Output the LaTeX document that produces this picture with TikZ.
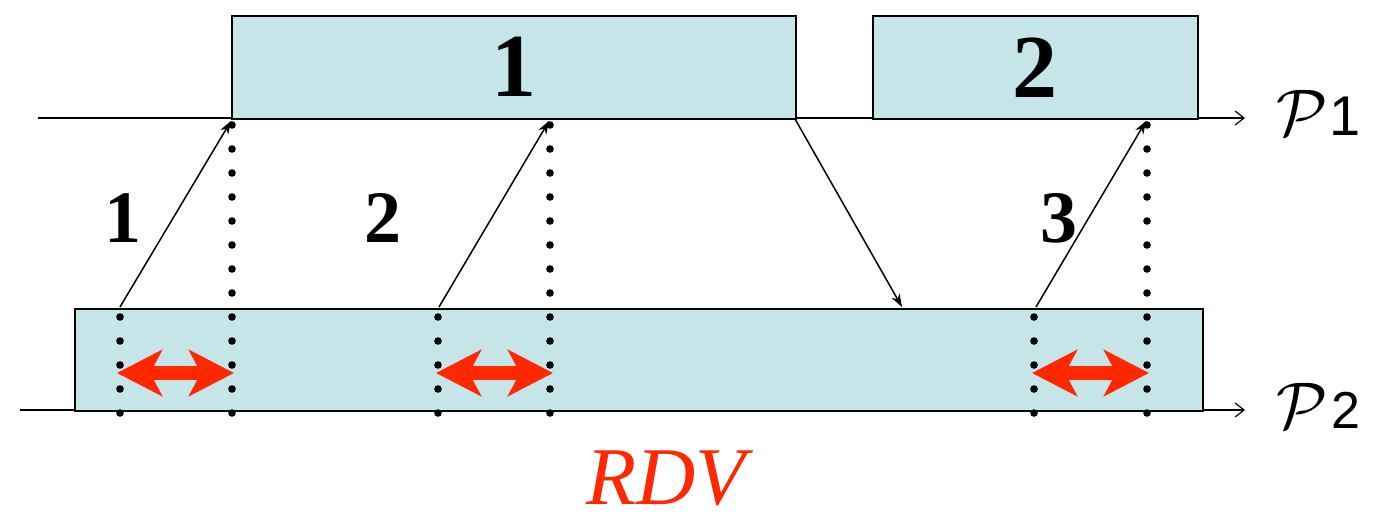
\documentclass[tikz,border=0pt]{standalone}
\usepackage{fontspec}
\setmainfont{Liberation Serif}
\newfontfamily\handfont{Liberation Sans}
\usetikzlibrary{arrows.meta}
\definecolor{boxfill}{RGB}{197,229,232}
\definecolor{rdvred}{RGB}{255,40,0}
\tikzset{
  blk/.style={draw=black, fill=boxfill, line width=1.5pt, inner sep=0pt, anchor=north west},
  axis/.style={line width=1.4pt, -{Straight Barb[length=9pt,width=14pt,line width=1.2pt]}},
  msg/.style={line width=1.5pt, -{Stealth[length=13pt,width=9pt,inset=4pt]}},
  span/.style={rdvred, line width=14pt, {Stealth[length=45pt,width=46pt,inset=12pt]}-{Stealth[length=45pt,width=46pt,inset=12pt]}},
  dot/.style={fill=black, draw=none},
  biglbl/.style={font=\fontsize{90}{90}\selectfont\bfseries},
  numlbl/.style={font=\fontsize{74}{74}\selectfont\bfseries},
  plbl/.style={inner sep=0pt, anchor=base west}
}
\begin{document}
\begin{tikzpicture}[x=1pt,y=-1pt]
\useasboundingbox (0,0) rectangle (1389,517);
% axes
\coordinate (a1s) at (38,118);
\coordinate (a1e) at (1245,118);
\coordinate (a2s) at (20,410);
\coordinate (a2e) at (1245,410);
\draw[axis] (a1s) -- (a1e);
\draw[axis] (a2s) -- (a2e);
% boxes
\node[blk, minimum width=564pt, minimum height=103pt] (b1) at (231,15) {};
\node[blk, minimum width=325pt, minimum height=103pt] (b2) at (872,15) {};
\node[blk, minimum width=1128pt, minimum height=102pt] (b3) at (74,308) {};
\node[biglbl] (l1) at (b1.center) {1};
\node[biglbl] (l2) at (b2.center) {2};
% dots
\foreach \x in {232,550,1147} {
  \foreach \y in {125,149,...,413} { \fill[dot] (\x,\y) circle (3.8pt); }
}
\foreach \x in {120,438,1034} {
  \foreach \y in {317,341,...,413} { \fill[dot] (\x,\y) circle (3.8pt); }
}
% messages
\coordinate (s1) at (120,307);
\coordinate (t1) at (231,121);
\coordinate (s2) at (439,307);
\coordinate (t2) at (549,121);
\coordinate (s3) at (1036,307);
\coordinate (t3) at (1146,121);
\coordinate (s4) at (795,119);
\coordinate (t4) at (902,307);
\draw[msg] (s1) -- (t1);
\draw[msg] (s2) -- (t2);
\draw[msg] (s3) -- (t3);
\draw[msg] (s4) -- (t4);
\node[numlbl] (n1) at (123,218) {1};
\node[numlbl] (n2) at (383,218) {2};
\node[numlbl] (n3) at (1059,218) {3};
% spans
\coordinate (r1a) at (117,373);
\coordinate (r1b) at (234,373);
\coordinate (r2a) at (436,373);
\coordinate (r2b) at (553,373);
\coordinate (r3a) at (1032,373);
\coordinate (r3b) at (1149,373);
\draw[span] (r1a) -- (r1b);
\draw[span] (r2a) -- (r2b);
\draw[span] (r3a) -- (r3b);
% labels
\node[plbl] (p1) at (1276,135) {\scalebox{6.6}{$\mathcal{P}$}\kern2pt{\handfont\fontsize{56}{56}\selectfont 1}};
\node[plbl] (p2) at (1276,428) {\scalebox{6.6}{$\mathcal{P}$}\kern4pt{\handfont\fontsize{52}{52}\selectfont 2}};
\node[rdvred, inner sep=0pt, anchor=base, font=\fontsize{82}{82}\selectfont\itshape] (rdv) at (666,504) {RDV};
\end{tikzpicture}
\end{document}
